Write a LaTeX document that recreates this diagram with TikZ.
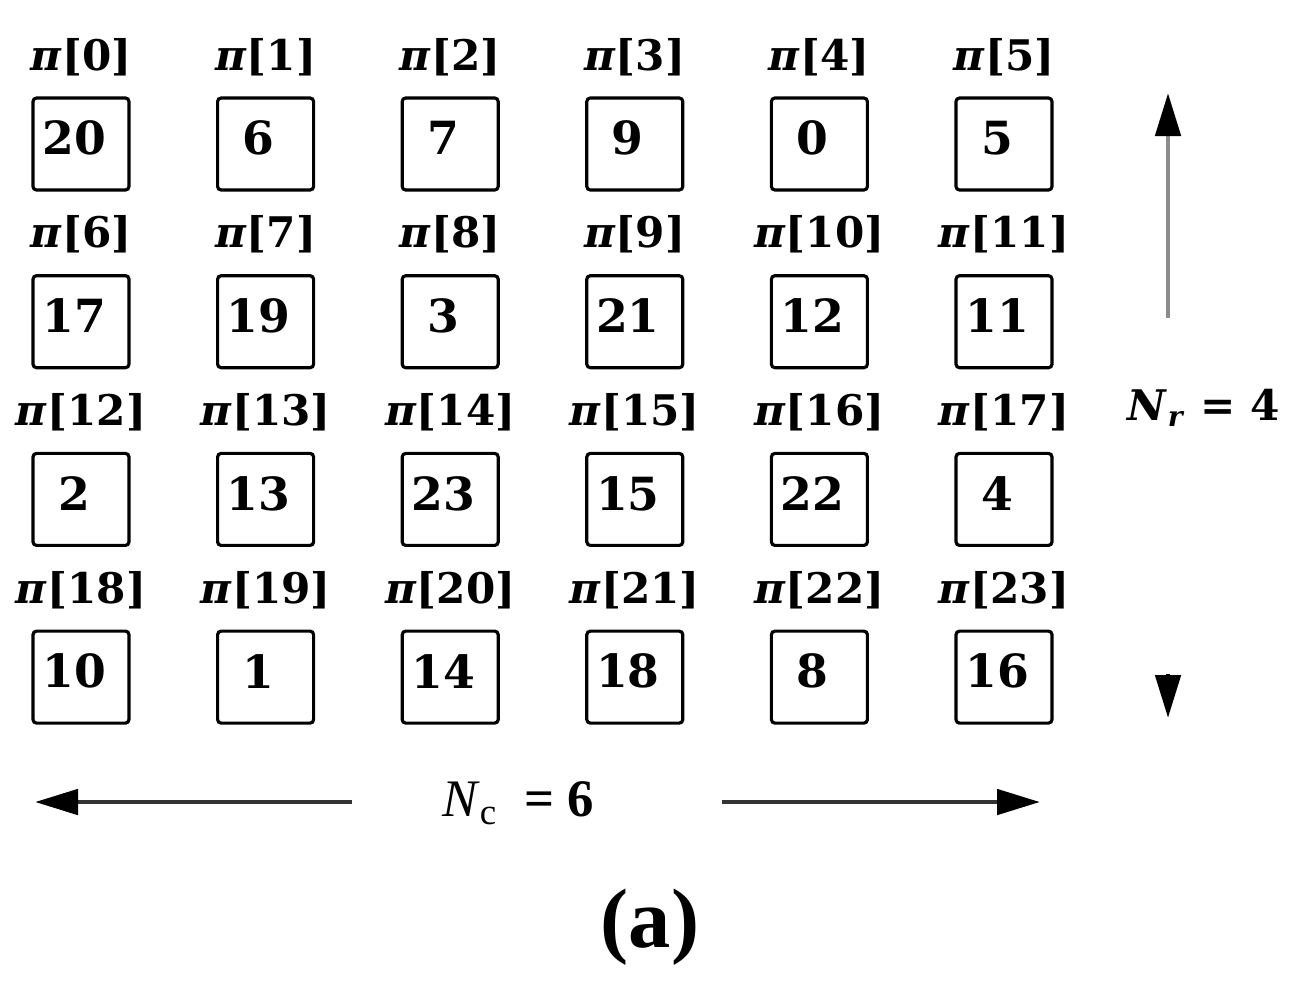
\documentclass[tikz,border=0pt]{standalone}
\usepackage{fontspec}
\setmainfont{DejaVu Serif}
\newfontfamily\capfont{Liberation Serif}
\usetikzlibrary{arrows.meta,positioning}
\tikzset{
	cell/.style={draw, line width=0.9pt, rounded corners=1pt, minimum width=0.96cm, minimum height=0.92cm, inner sep=0pt},
	val/.style={font=\fontsize{13}{15}\selectfont\bfseries, inner sep=0pt},
	idx/.style={font=\fontsize{12}{14}\selectfont\bfseries, inner sep=0pt},
	dirarrow/.style={line width=1.4pt, -{Triangle[length=0.43cm, width=0.25cm, color=black]}},
}

\begin{document}
\begin{tikzpicture}
	\useasboundingbox (0,0) rectangle (12.97,-9.87);

	%interleaver cells
	\foreach \v [count=\i from 0] in {20,6,7,9,0,5,17,19,3,21,12,11,2,13,23,15,22,4,10,1,14,18,8,16} {
		\pgfmathtruncatemacro\r{div(\i,6)}
		\pgfmathtruncatemacro\c{mod(\i,6)}
		\node[cell] (b\i) at ({0.81+1.846*\c}, {-1.44-1.777*\r}) {};
		\node[val, xshift=-0.07cm, yshift=0.06cm] (v\i) at (b\i) {\v};
		\node[idx, above=0.2cm of b\i] (l\i) {\textit{π}[\i]};
	}

	%rows
	\coordinate (rtop) at (11.68,-0.93);
	\coordinate (rbot) at (11.68,-3.18);
	\coordinate (dtop) at (11.68,-6.74);
	\coordinate (dtip) at (11.68,-7.18);
	\draw[dirarrow, black!45] (rbot) -- (rtop);
	\draw[dirarrow] (dtop) -- (dtip);
	\node[font=\fontsize{12}{14}\selectfont\bfseries] (nr) at (12.04,-4.08) {\textit{N}\textsubscript{\textit{r}} = 4};

	%columns
	\coordinate (clstart) at (3.52,-8.02);
	\coordinate (cl) at (0.35,-8.02);
	\coordinate (crstart) at (7.22,-8.02);
	\coordinate (cr) at (10.40,-8.02);
	\draw[dirarrow, black!80] (clstart) -- (cl);
	\draw[dirarrow, black!80] (crstart) -- (cr);
	\node[font=\capfont\fontsize{15}{17}\selectfont] (nc) at (5.18,-8.03) {\textit{N}\textsubscript{c}\ \ \textbf{= 6}};

	\node[font=\capfont\fontsize{24}{26}\selectfont\bfseries] (cap) at (6.50,-9.27) {(a)};
\end{tikzpicture}
\end{document}
